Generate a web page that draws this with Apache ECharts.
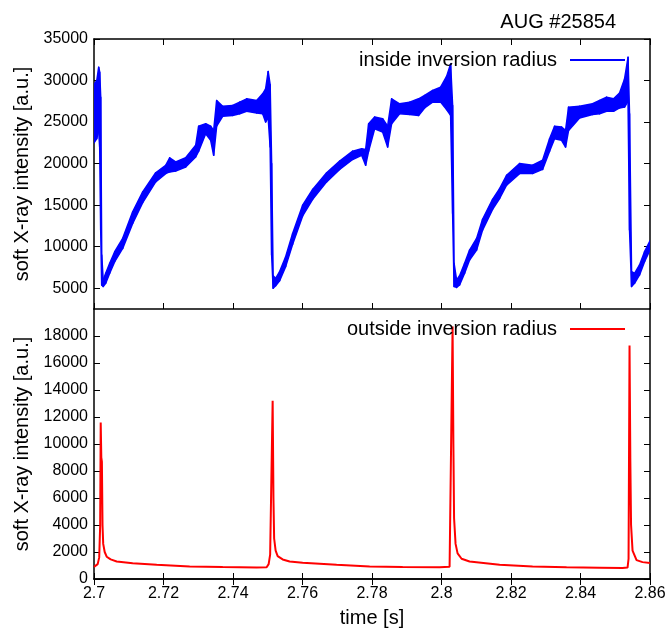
<!DOCTYPE html>
<html>
<head>
<meta charset="utf-8">
<script src="https://cdn.jsdelivr.net/npm/echarts@6/dist/echarts.min.js"></script>
<style>
html,body{margin:0;padding:0;background:#fff;}
#chart{width:670px;height:630px;}
</style>
</head>
<body>
<div id="chart"></div>
<script>
// ---- data ----
const chartTitle = 'AUG #25854';
const topSeriesName = 'inside inversion radius';
const bottomSeriesName = 'outside inversion radius';
const xAxisTitle = 'time [s]';
const yAxisTitle = 'soft X-ray intensity [a.u.]';

const xTickValues = [2.7, 2.72, 2.74, 2.76, 2.78, 2.8, 2.82, 2.84, 2.86];
const xTickLabels = ['2.7', '2.72', '2.74', '2.76', '2.78', '2.8', '2.82', '2.84', '2.86'];
const yTopTickValues = [5000, 10000, 15000, 20000, 25000, 30000, 35000];
const yTopTickLabels = ['5000', '10000', '15000', '20000', '25000', '30000', '35000'];
const yBottomTickValues = [0, 2000, 4000, 6000, 8000, 10000, 12000, 14000, 16000, 18000];
const yBottomTickLabels = ['0', '2000', '4000', '6000', '8000', '10000', '12000', '14000', '16000', '18000'];

// inside inversion radius: time, upper and lower envelope of the noisy band
const timeTop = [2.7000, 2.7008, 2.70135, 2.70164, 2.70193, 2.70222, 2.70265, 2.70337, 2.70452, 2.70596,
  2.70826, 2.71113, 2.71401, 2.71775, 2.72063, 2.72178, 2.72350, 2.72638, 2.72926, 2.73012,
  2.73214, 2.73357, 2.73444, 2.73530, 2.73703, 2.73990, 2.74192, 2.74393, 2.74681, 2.74853,
  2.74939, 2.75012, 2.75069, 2.75112, 2.75155, 2.75227, 2.75342, 2.75515, 2.75716, 2.76004,
  2.76292, 2.76694, 2.77069, 2.77443, 2.77702, 2.77817, 2.77903, 2.78076, 2.78306, 2.78450,
  2.78565, 2.78795, 2.79083, 2.79341, 2.79514, 2.79744, 2.79974, 2.80147, 2.80262, 2.80320,
  2.80362, 2.80434, 2.80521, 2.80665, 2.80808, 2.81010, 2.81182, 2.81470, 2.81672, 2.81873,
  2.82247, 2.82621, 2.82909, 2.83110, 2.83254, 2.83455, 2.83570, 2.83657, 2.83973, 2.84347,
  2.84548, 2.84750, 2.84951, 2.85124, 2.85268, 2.85368, 2.85411, 2.85469, 2.85555, 2.85699,
  2.85843, 2.86000];
const upperTop = [29500, 30000, 31600, 31000, 28000, 9000, 6000, 6800, 8000, 9400,
  11000, 14200, 16600, 18900, 19800, 20700, 20200, 20700, 22200, 24500,
  24800, 24500, 24000, 27600, 26900, 27000, 27400, 27800, 27600, 28400,
  29000, 31100, 29500, 20000, 6500, 6200, 7000, 8800, 11600, 15000,
  16900, 18900, 20300, 21500, 21800, 21700, 24800, 25600, 25400, 24500,
  27800, 27200, 27400, 27800, 28200, 28800, 29200, 30500, 32000, 27000,
  8000, 6000, 6500, 8000, 9600, 11000, 13300, 15700, 17000, 18600,
  20000, 19800, 20400, 23000, 24500, 24400, 24000, 26800, 26900, 27200,
  27600, 28000, 27800, 28500, 30200, 32800, 26000, 7000, 6800, 7800,
  9400, 10700];
const lowerTop = [22500, 23000, 24000, 22000, 12000, 5400, 5200, 5600, 6800, 8200,
  9800, 12800, 15300, 17800, 18800, 19000, 19100, 19600, 20800, 21500,
  23600, 22800, 21000, 24500, 25700, 25800, 26000, 26300, 26100, 26000,
  25000, 25500, 22000, 9000, 5000, 5300, 5900, 7600, 10300, 13700,
  15700, 17800, 19300, 20500, 21000, 19800, 21500, 24200, 23800, 22000,
  24800, 26000, 25900, 25800, 26700, 27400, 27400, 26500, 25800, 14000,
  5200, 5100, 5400, 6800, 8400, 9600, 12000, 14500, 15800, 17400,
  18800, 18800, 19300, 21500, 23000, 22800, 22000, 24000, 25500, 25900,
  26000, 26300, 26300, 26700, 26800, 27500, 12000, 5200, 5600, 6600,
  8200, 9600];

// outside inversion radius
const timeBottom = [2.7000, 2.70049, 2.70106, 2.70150, 2.70178, 2.70193, 2.70210, 2.70227, 2.70245, 2.70265,
  2.70308, 2.70365, 2.70480, 2.70653, 2.71113, 2.71804, 2.72753, 2.73703, 2.74681, 2.74968,
  2.75026, 2.75069, 2.75112, 2.75141, 2.75164, 2.75184, 2.75227, 2.75285, 2.75429, 2.75630,
  2.76004, 2.76982, 2.77932, 2.78881, 2.79945, 2.80233, 2.80290, 2.80319, 2.80342, 2.80362,
  2.80405, 2.80463, 2.80578, 2.80808, 2.81672, 2.82621, 2.83599, 2.84548, 2.85210, 2.85354,
  2.85383, 2.85411, 2.85434, 2.85455, 2.85498, 2.85613, 2.85785, 2.86000];
const valueBottom = [900, 950, 1100, 1600, 4000, 11600, 9000, 8700, 4000, 2600,
  2000, 1650, 1450, 1300, 1170, 1050, 930, 880, 860, 870,
  1100, 1800, 1900, 13200, 6000, 3000, 2100, 1700, 1450, 1300,
  1200, 1050, 930, 880, 870, 900, 1000, 18700, 10000, 4500,
  2600, 1900, 1500, 1300, 1050, 930, 870, 840, 820, 850,
  1500, 17300, 8800, 4000, 2100, 1400, 1250, 1180];

// ---- chart ----
const FONT = '"Liberation Sans", Arial, Helvetica, sans-serif';
const BLUE = '#0000ff';
const RED = '#ff0000';

function labelFrom(values, labels) {
  return function (v) {
    for (let i = 0; i < values.length; i++) {
      if (Math.abs(values[i] - v) < 1e-9 * Math.max(1, Math.abs(v))) return labels[i];
    }
    return '';
  };
}

const bandData = timeTop.map((t, i) => [t, upperTop[i], lowerTop[i]]);
const outData = timeBottom.map((t, i) => [t, valueBottom[i]]);

function renderBand(params, api) {
  const i = params.dataIndex;
  if (i >= bandData.length - 1) return null;
  const a = bandData[i], b = bandData[i + 1];
  const pts = [
    api.coord([a[0], a[2]]),
    api.coord([a[0], a[1]]),
    api.coord([b[0], b[1]]),
    api.coord([b[0], b[2]])
  ];
  return {
    type: 'polygon',
    shape: { points: pts },
    style: { fill: BLUE, stroke: BLUE, lineWidth: 1.5, lineJoin: 'round' }
  };
}

const axisLineStyle = { show: true, lineStyle: { color: '#000', width: 1.5 } };

function xAx(gridIndex, position, showLabels, withName) {
  const ax = {
    type: 'value', gridIndex: gridIndex, position: position,
    min: 2.7, max: 2.86,
    axisLine: axisLineStyle,
    splitLine: { show: false },
    axisTick: { show: true, inside: true, length: 6, lineStyle: { color: '#000', width: 1 }, customValues: xTickValues },
    axisLabel: { show: showLabels, customValues: xTickValues, formatter: labelFrom(xTickValues, xTickLabels),
      color: '#000', fontFamily: FONT, fontSize: 16, margin: 7 }
  };
  if (withName) {
    ax.name = xAxisTitle;
    ax.nameLocation = 'middle';
    ax.nameGap = 29;
    ax.nameTextStyle = { color: '#000', fontFamily: FONT, fontSize: 20 };
  }
  return ax;
}

function yAx(gridIndex, position, min, max, tv, tl, showLabels) {
  const ax = {
    type: 'value', gridIndex: gridIndex, position: position,
    min: min, max: max,
    axisLine: axisLineStyle,
    splitLine: { show: false },
    axisTick: { show: true, inside: true, length: 6, lineStyle: { color: '#000', width: 1 }, customValues: tv },
    axisLabel: { show: showLabels, customValues: tv, formatter: labelFrom(tv, tl),
      color: '#000', fontFamily: FONT, fontSize: 16, margin: 6 }
  };
  if (showLabels) {
    ax.name = yAxisTitle;
    ax.nameLocation = 'middle';
    ax.nameGap = 62;
    ax.nameRotate = 90;
    ax.nameTextStyle = { color: '#000', fontFamily: FONT, fontSize: 20 };
  }
  return ax;
}

const chart = echarts.init(document.getElementById('chart'), null, { renderer: 'canvas' });
chart.setOption({
  animation: false,
  backgroundColor: '#fff',
  title: {
    text: chartTitle, right: 49, top: 7,
    textStyle: { color: '#000', fontFamily: FONT, fontSize: 20, fontWeight: 'normal' }
  },
  legend: [
    {
      data: [{ name: topSeriesName, icon: 'rect', itemStyle: { color: BLUE } }],
      right: 40, top: 45, align: 'right', itemWidth: 55, itemHeight: 2,
      textStyle: { color: '#000', fontFamily: FONT, fontSize: 20, padding: [0, 8, 0, 0] },
      selectedMode: false
    },
    {
      data: [{ name: bottomSeriesName, icon: 'rect', itemStyle: { color: RED } }],
      right: 40, top: 314, align: 'right', itemWidth: 55, itemHeight: 2,
      textStyle: { color: '#000', fontFamily: FONT, fontSize: 20, padding: [0, 8, 0, 0] },
      selectedMode: false
    }
  ],
  grid: [
    { left: 94, right: 20, top: 39, height: 270, show: false },
    { left: 94, right: 20, top: 309, height: 270, show: false }
  ],
  xAxis: [
    xAx(0, 'bottom', false, false),
    xAx(0, 'top', false, false),
    xAx(1, 'bottom', true, true),
    xAx(1, 'top', false, false)
  ],
  yAxis: [
    yAx(0, 'left', 2500, 35000, yTopTickValues, yTopTickLabels, true),
    yAx(0, 'right', 2500, 35000, yTopTickValues, yTopTickLabels, false),
    yAx(1, 'left', 0, 20000, yBottomTickValues, yBottomTickLabels, true),
    yAx(1, 'right', 0, 20000, yBottomTickValues, yBottomTickLabels, false)
  ],
  series: [
    {
      name: topSeriesName, type: 'custom', xAxisIndex: 0, yAxisIndex: 0,
      data: bandData, encode: { x: 0, y: [1, 2] },
      renderItem: renderBand, clip: true,
      itemStyle: { color: BLUE }
    },
    {
      name: bottomSeriesName, type: 'line', xAxisIndex: 2, yAxisIndex: 2,
      data: outData, symbol: 'none', showSymbol: false,
      lineStyle: { color: RED, width: 2 }, itemStyle: { color: RED }
    }
  ]
});
</script>
</body>
</html>
